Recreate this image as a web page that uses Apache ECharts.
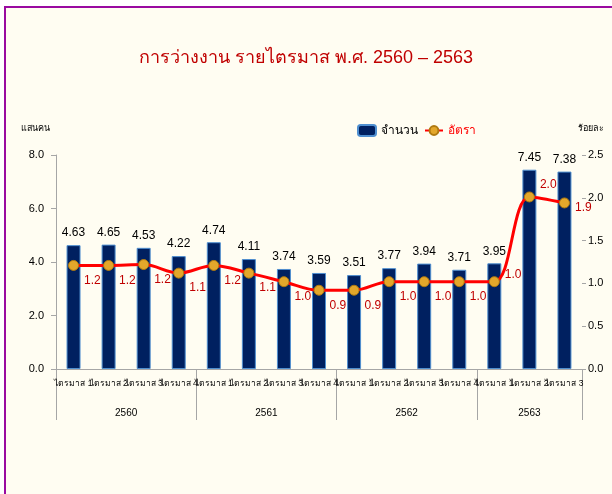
<!DOCTYPE html>
<html><head><meta charset="utf-8">
<script src="https://cdn.jsdelivr.net/npm/echarts@6/dist/echarts.min.js"></script>
<style>
html,body{margin:0;padding:0;background:#fff;width:612px;height:494px;overflow:hidden}
#frame{position:absolute;left:4px;top:6px;width:608px;height:488px;background:#FFFDF2;border-left:2px solid #9A0AA0;border-top:2px solid #9A0AA0;box-sizing:border-box}
#c{position:absolute;left:0;top:0;width:612px;height:494px}
</style></head><body>
<div id="frame"></div>
<div id="c"></div>
<script>
const titleText = 'การว่างงาน รายไตรมาส พ.ศ. 2560 – 2563';
const years = ['2560','2561','2562','2563'];
const quartersPerYear = [4,4,4,3];
const categories = ['ไตรมาส 1','ไตรมาส 2','ไตรมาส 3','ไตรมาส 4','ไตรมาส 1','ไตรมาส 2','ไตรมาส 3','ไตรมาส 4','ไตรมาส 1','ไตรมาส 2','ไตรมาส 3','ไตรมาส 4','ไตรมาส 1','ไตรมาส 2','ไตรมาส 3'];
const countValues = [4.63,4.65,4.53,4.22,4.74,4.11,3.74,3.59,3.51,3.77,3.94,3.71,3.95,7.45,7.38];
const rateValues = [1.21,1.21,1.22,1.12,1.21,1.12,1.02,0.92,0.92,1.02,1.02,1.02,1.02,2.01,1.94];
const leftTicks = [0,2,4,6,8];
const rightTicks = [0,0.5,1,1.5,2,2.5];

const FONT = 'Tahoma, "Liberation Sans", "Noto Sans", sans-serif';

const nCat = categories.length;
const yearSlots = new Array(2*nCat+1).fill('');
const boundaries = [0];
let acc = 0;
quartersPerYear.forEach((q,i)=>{
  yearSlots[2*acc + q] = years[i];
  acc += q;
  boundaries.push(2*acc);
});

const rateLabelOffsets = {12:[0,-7],13:[0,-12],14:[0,5]};
const rateData = rateValues.map((v,i)=>{
  const off = rateLabelOffsets[i] || [0,15];
  return {value:v, label:{offset:off}};
});

const chart = echarts.init(document.getElementById('c'));
chart.setOption({
  backgroundColor:'transparent',
  animation:false,
  title:{text:titleText,left:'center',top:44,textStyle:{color:'#C00000',fontSize:18,fontWeight:'normal',fontFamily:FONT}},
  legend:{
    top:119,left:352,itemWidth:18,itemHeight:11,itemGap:6,
    textStyle:{fontFamily:FONT,fontSize:12,color:'#000'},
    data:[{name:'จำนวน',textStyle:{color:'#000'}},{name:'อัตรา',textStyle:{color:'#FF0000'}}]
  },
  grid:{left:56,right:30,top:155,bottom:125},
  xAxis:[
    {type:'category',data:categories,position:'bottom',
     axisLine:{lineStyle:{color:'#A6A6A6'}},
     axisTick:{length:7,lineStyle:{color:'#A6A6A6'}},
     axisLabel:{interval:0,margin:10,fontSize:8.5,color:'#000',fontFamily:FONT}},
    {type:'category',data:yearSlots,boundaryGap:false,position:'bottom',
     axisLine:{show:false},
     axisTick:{show:true,length:51,interval:function(i){return boundaries.indexOf(i)>=0;},lineStyle:{color:'#A6A6A6'}},
     axisLabel:{interval:0,margin:39,fontSize:10,color:'#000',fontFamily:FONT,
       formatter:function(v){return v;}}}
  ],
  yAxis:[
    {type:'value',min:leftTicks[0],max:leftTicks[leftTicks.length-1],interval:leftTicks[1]-leftTicks[0],
     name:'แสนคน',nameLocation:'end',nameGap:22,nameTextStyle:{align:'right',padding:[0,6,0,0],fontSize:9,color:'#000',fontFamily:FONT},
     axisLine:{show:true,lineStyle:{color:'#A6A6A6'}},axisTick:{show:true,length:5,lineStyle:{color:'#A6A6A6'}},
     splitLine:{show:false},
     axisLabel:{margin:12,fontSize:11,color:'#000',fontFamily:FONT,formatter:v=>v.toFixed(1)}},
    {type:'value',min:rightTicks[0],max:rightTicks[rightTicks.length-1],interval:rightTicks[1]-rightTicks[0],position:'right',
     name:'ร้อยละ',nameLocation:'end',nameGap:22,nameTextStyle:{align:'left',padding:[0,0,0,-4],fontSize:9,color:'#000',fontFamily:FONT},
     axisLine:{show:false},axisTick:{show:true,length:4,lineStyle:{color:'#A6A6A6'}},
     splitLine:{show:false},
     axisLabel:{margin:6,fontSize:11,color:'#000',fontFamily:FONT,formatter:v=>v.toFixed(1)}}
  ],
  series:[
    {name:'จำนวน',type:'bar',data:countValues,barWidth:14,xAxisIndex:0,yAxisIndex:0,
     itemStyle:{color:'#002060',borderColor:'#4F8FD0',borderWidth:1},
     label:{show:true,position:'top',distance:6,color:'#000',fontSize:12,fontFamily:FONT,formatter:p=>p.value.toFixed(2)}},
    {name:'อัตรา',type:'line',data:rateData,xAxisIndex:0,yAxisIndex:1,smooth:0.35,
     symbol:'circle',symbolSize:10,
     lineStyle:{color:'#FF0000',width:3},
     itemStyle:{color:'#E3A72B',borderColor:'#B07A10',borderWidth:1},
     label:{show:true,position:'right',distance:5,color:'#C00000',fontSize:12,fontFamily:FONT,formatter:p=>p.value.toFixed(1)}}
  ]
});
</script>
</body></html>
